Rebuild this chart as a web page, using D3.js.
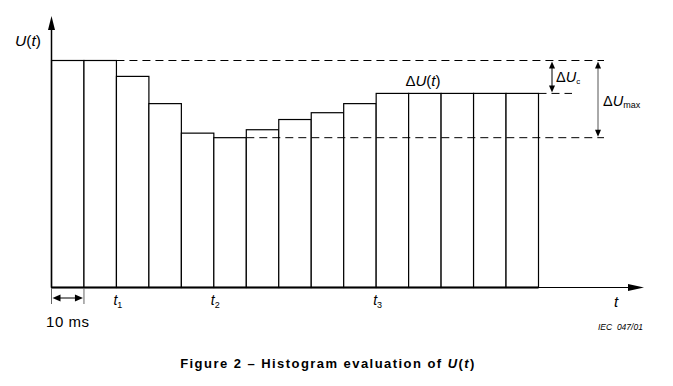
<!DOCTYPE html>
<html><head><meta charset="utf-8">
<script src="https://cdn.jsdelivr.net/npm/d3@7"></script>
<style>body{margin:0;background:#fff}svg{display:block}text{font-family:"Liberation Sans",Arial,sans-serif;fill:#000}</style>
</head><body>
<script>
// Data
const values = [100, 100, 93, 81, 68, 66, 69.5, 74, 77, 81, 85.5, 85.5, 85.5, 85.5, 85.5];
const tickIndex = [2, 5, 10];
const tickLabels = ["1", "2", "3"];
const unitLabel = "10 ms";

const W = 673, H = 386;
const svg = d3.select("body").append("svg").attr("width", W).attr("height", H);

const x = d3.scaleLinear().domain([0, values.length]).range([51.5, 538.5]);
const y = d3.scaleLinear().domain([0, 100]).range([287.5, 60.5]);

// bars
svg.append("g").selectAll("rect").data(values).join("rect")
  .attr("x", (d, i) => x(i)).attr("y", d => y(d))
  .attr("width", (d, i) => x(i + 1) - x(i)).attr("height", d => y(0) - y(d))
  .attr("fill", "#fff").attr("stroke", "#000").attr("stroke-width", 1.2);

const vMax = d3.max(values), vMin = d3.min(values), vEnd = values[values.length - 1];
const iMin = values.indexOf(vMin);
const iMaxLast = values.lastIndexOf(vMax);

// dashed lines
const dash = "8,5";
function hline(x1, x2, yy) {
  svg.append("line").attr("x1", x1).attr("x2", x2).attr("y1", yy).attr("y2", yy)
    .attr("stroke", "#000").attr("stroke-width", 1).attr("stroke-dasharray", dash);
}
hline(x(iMaxLast + 1), 604, y(vMax));
hline(x(values.length), 572, y(vEnd));
hline(x(iMin + 1), 604, y(vMin));

function arrowHead(px, py, dir, len, half) {
  let pts;
  if (dir === "up") pts = [[px, py], [px - half, py + len], [px + half, py + len]];
  if (dir === "down") pts = [[px, py], [px - half, py - len], [px + half, py - len]];
  if (dir === "left") pts = [[px, py], [px + len, py - half], [px + len, py + half]];
  if (dir === "right") pts = [[px, py], [px - len, py - half], [px - len, py + half]];
  svg.append("path").attr("d", "M" + pts.map(p => p.join(",")).join("L") + "Z").attr("fill", "#000");
}

// axes
svg.append("line").attr("x1", x(0)).attr("x2", x(0)).attr("y1", 287.5).attr("y2", 26)
  .attr("stroke", "#000").attr("stroke-width", 1.5);
arrowHead(x(0), 16, "up", 14, 3.5);
svg.append("line").attr("x1", x(0)).attr("x2", x(values.length)).attr("y1", 287.5).attr("y2", 287.5)
  .attr("stroke", "#000").attr("stroke-width", 2.2);
svg.append("line").attr("x1", x(values.length)).attr("x2", 632).attr("y1", 287.5).attr("y2", 287.5)
  .attr("stroke", "#000").attr("stroke-width", 1);
arrowHead(644, 287.5, "right", 16, 3.5);

// axis labels
const yl = svg.append("text").attr("x", 15).attr("y", 46).attr("font-size", 15.5);
yl.append("tspan").attr("font-style", "italic").text("U");
yl.append("tspan").text("(");
yl.append("tspan").attr("font-style", "italic").text("t");
yl.append("tspan").text(")");

svg.append("text").attr("x", 614).attr("y", 307).attr("font-size", 15).attr("font-style", "italic").text("t");

// t ticks
tickIndex.forEach((ti, k) => {
  const t = svg.append("text").attr("x", x(ti) - 3).attr("y", 305).attr("font-size", 14);
  t.append("tspan").attr("font-style", "italic").text("t");
  t.append("tspan").attr("font-size", 9).attr("dy", 3).text(tickLabels[k]);
});

// 10 ms dimension
[x(0), x(1)].forEach(xx => svg.append("line").attr("x1", xx).attr("x2", xx).attr("y1", 288).attr("y2", 304)
  .attr("stroke", "#666").attr("stroke-width", 1));
svg.append("line").attr("x1", x(0) + 6).attr("x2", x(1) - 6).attr("y1", 298).attr("y2", 298)
  .attr("stroke", "#000").attr("stroke-width", 1);
arrowHead(x(0) + 1, 298, "left", 8, 3.5);
arrowHead(x(1) - 1, 298, "right", 8, 3.5);
svg.append("text").attr("x", (x(0) + x(1)) / 2).attr("y", 327).attr("text-anchor", "middle")
  .attr("font-size", 15).attr("letter-spacing", 0.5).text(unitLabel);

// ΔU_c arrow
const xc = 552;
svg.append("line").attr("x1", xc).attr("x2", xc).attr("y1", y(vMax) + 5).attr("y2", y(vEnd) - 5)
  .attr("stroke", "#000").attr("stroke-width", 1);
arrowHead(xc, y(vMax) + 1, "up", 7, 3);
arrowHead(xc, y(vEnd) - 1, "down", 7, 3);
const tc = svg.append("text").attr("x", 556).attr("y", 82).attr("font-size", 14.5);
tc.append("tspan").text("Δ");
tc.append("tspan").attr("font-style", "italic").text("U");
tc.append("tspan").attr("font-size", 8).attr("dy", 2).text("c");

// ΔU_max arrow
const xm = 598;
svg.append("line").attr("x1", xm).attr("x2", xm).attr("y1", y(vMax) + 5).attr("y2", y(vMin) - 5)
  .attr("stroke", "#555").attr("stroke-width", 1);
arrowHead(xm, y(vMax) + 1, "up", 7, 3);
arrowHead(xm, y(vMin) - 1, "down", 7, 3);
const tm = svg.append("text").attr("x", 603).attr("y", 106).attr("font-size", 14.5);
tm.append("tspan").text("Δ");
tm.append("tspan").attr("font-style", "italic").text("U");
tm.append("tspan").attr("font-size", 9).attr("dy", 2).text("max");

// ΔU(t) label
const tu = svg.append("text").attr("x", 423).attr("y", 86).attr("font-size", 15).attr("text-anchor", "middle");
tu.append("tspan").text("Δ");
tu.append("tspan").attr("font-style", "italic").text("U");
tu.append("tspan").text("(");
tu.append("tspan").attr("font-style", "italic").text("t");
tu.append("tspan").text(")");

// IEC ref
svg.append("text").attr("x", 598).attr("y", 330).attr("font-size", 8.5).attr("font-style", "italic")
  .style("white-space", "pre").text("IEC  047/01");

// title
const tt = svg.append("text").attr("x", 328).attr("y", 368).attr("text-anchor", "middle")
  .attr("font-size", 13).attr("font-weight", "bold").attr("letter-spacing", 1.45);
tt.append("tspan").text("Figure 2 – Histogram evaluation of ");
tt.append("tspan").attr("font-style", "italic").text("U");
tt.append("tspan").text("(");
tt.append("tspan").attr("font-style", "italic").text("t");
tt.append("tspan").text(")");
</script>
</body></html>
